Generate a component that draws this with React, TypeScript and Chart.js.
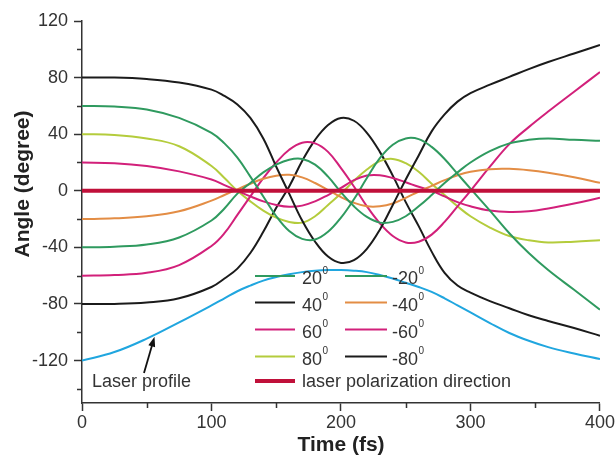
import React, { useEffect, useRef } from 'react';
import { Chart, registerables } from 'chart.js';

Chart.register(...registerables);

// ---- data ----
const T = [0, 25, 50, 75, 100, 110, 120, 130, 140, 150, 160, 170, 180, 190, 200, 210, 220, 230, 240, 250, 260, 270, 280, 290, 300, 315, 330, 345, 360, 380, 400];

const GREEN_A = [60, 59.5, 57.5, 51.5, 41, 33.5, 23.5, 10, -4, -18, -28.5, -34, -34.5, -29, -19, -6, 9, 23, 32.5, 37, 36.5, 31, 22.5, 12, 1.5, -14, -30, -44, -56, -70, -84];
const GREEN_B = [-40, -39.5, -38, -33, -21, -12.5, -2, 5.5, 13, 18.5, 22, 22.5, 18.5, 10, -1, -11, -18.5, -22.5, -22, -18, -11, -3, 5.5, 13, 20, 28, 33.5, 36, 37, 36, 35.4];
const BLACK_A = [80, 80, 79, 76.5, 71.5, 67, 61, 51.5, 37, 17, -2, -21, -36, -46.5, -51, -49, -41, -27.5, -10, 8, 25, 42, 54, 63, 69, 75, 80.5, 86, 91, 97, 103];
const ORANGE = [-20, -19.5, -18, -14.5, -7, -3, 1, 5, 8.5, 10.7, 11.3, 9.5, 5.5, 0.5, -4.5, -8.5, -11, -11, -9, -5, -0.5, 3.5, 7.5, 11, 13.5, 15.3, 15.5, 14.5, 12.7, 9.5, 5.6];
const MAGENTA_A = [20, 19.5, 17.5, 13.7, 8, 4, 0, -4, -7.5, -10, -11.3, -10.5, -7.5, -3, 2, 7.5, 10.8, 11, 9, 6, 2.8, 0, -4, -8, -11, -14, -15, -14.5, -12.5, -9, -5];
const MAGENTA_B = [-60, -59.5, -58, -52.5, -39, -30, -17, -4, 9, 20, 29, 34, 33.5, 27.5, 16, 3, -11, -23, -32, -36.5, -36, -31, -22, -11, 0, 17, 33, 45, 56, 70, 84];
const YELLOW = [40, 39.5, 37, 31.5, 17.5, 9, 0, -7.5, -14, -19, -22, -22.5, -18, -10, -2, 7, 15, 21, 22.5, 19.5, 13.5, 5, -3, -11, -18, -26, -32, -35, -36.5, -36, -35];
const BLACK_B = [-80, -80, -79, -76, -68, -62, -55, -44, -29, -12, 3, 21, 36, 46.5, 51.5, 49.5, 41, 27.5, 10.7, -8, -25, -43, -58, -67, -72, -78, -83, -88, -92, -97, -102.5];
const LASER = [-120, -114, -104.5, -93, -81, -76, -71, -67, -63.5, -61, -59, -57.5, -56.5, -56, -56, -56.5, -57.5, -59.5, -62, -65, -68, -71.5, -76, -81, -86, -93.5, -100.5, -106, -110.5, -115, -119];
const POL_T = [0, 400];
const POL_V = [0, 0];

const LEGEND_LEFT = ['20', '40', '60', '80'];
const LEGEND_RIGHT = ['-20', '-40', '-60', '-80'];
const POL_LABEL = 'laser polarization direction';
const LASER_LABEL = 'Laser profile';
const ARROW_T = 56;

const X_TICKS = [0, 100, 200, 300, 400];
const X_MINOR = [50, 150, 250, 350];
const Y_TICKS = [-120, -80, -40, 0, 40, 80, 120];
const Y_MINOR = [-140, -100, -60, -20, 20, 60, 100];

// ---- styles ----
const C_GREEN = '#2f9a5f';
const C_BLACK = '#1b1b1b';
const C_ORANGE = '#e38d45';
const C_MAGENTA = '#d2207a';
const C_YELLOW = '#b4cc3c';
const C_BLUE = '#20a6df';
const C_RED = '#c0103a';
const AXIS = '#333333';
const FONT = '"Liberation Sans", Arial, Helvetica, sans-serif';

const pts = (xs: number[], ys: number[]) => xs.map((x, i) => ({ x, y: ys[i] }));

const SERIES = [
  { label: '20', data: GREEN_A, color: C_GREEN },
  { label: '-20', data: GREEN_B, color: C_GREEN },
  { label: '40', data: BLACK_A, color: C_BLACK },
  { label: '-40', data: ORANGE, color: C_ORANGE },
  { label: '60', data: MAGENTA_A, color: C_MAGENTA },
  { label: '-60', data: MAGENTA_B, color: C_MAGENTA },
  { label: '80', data: YELLOW, color: C_YELLOW },
  { label: '-80', data: BLACK_B, color: C_BLACK },
];

const colorOf = (label: string) => (SERIES.find((s) => s.label === label) || { color: '#000' }).color;

const overlay = {
  id: 'overlay',
  afterDraw(chart: any) {
    const ctx = chart.ctx as CanvasRenderingContext2D;
    const xs = chart.scales.x;
    const ys = chart.scales.y;
    const { left, bottom } = chart.chartArea;
    ctx.save();
    // minor ticks
    ctx.strokeStyle = AXIS;
    ctx.lineWidth = 1.5;
    ctx.beginPath();
    X_MINOR.forEach((v) => {
      const px = Math.round(xs.getPixelForValue(v)) + 0.5;
      ctx.moveTo(px, bottom);
      ctx.lineTo(px, bottom + 5);
    });
    Y_MINOR.forEach((v) => {
      const py = Math.round(ys.getPixelForValue(v)) + 0.5;
      ctx.moveTo(left - 5, py);
      ctx.lineTo(left, py);
    });
    ctx.stroke();

    // axis titles
    ctx.fillStyle = '#222';
    ctx.font = `bold 21px ${FONT}`;
    ctx.textAlign = 'center';
    ctx.textBaseline = 'alphabetic';
    ctx.fillText('Time (fs)', (chart.chartArea.left + chart.chartArea.right) / 2, 451);
    ctx.save();
    ctx.translate(29, 184);
    ctx.rotate(-Math.PI / 2);
    ctx.fillText('Angle (degree)', 0, 0);
    ctx.restore();

    // legend
    const rowsY = [276, 302.5, 329.5, 356.5];
    const drawEntry = (label: string, lx0: number, lx1: number, tx: number, y: number) => {
      ctx.strokeStyle = colorOf(label);
      ctx.lineWidth = 2;
      ctx.beginPath();
      ctx.moveTo(lx0, y);
      ctx.lineTo(lx1, y);
      ctx.stroke();
      ctx.fillStyle = '#333';
      ctx.textAlign = 'left';
      ctx.textBaseline = 'alphabetic';
      ctx.font = `18px ${FONT}`;
      ctx.fillText(label, tx, y + 8);
      const w = ctx.measureText(label).width;
      ctx.font = `10px ${FONT}`;
      ctx.fillText('0', tx + w + 0.5, y - 2.5);
    };
    LEGEND_LEFT.forEach((l, i) => drawEntry(l, 255, 295, 302, rowsY[i]));
    LEGEND_RIGHT.forEach((l, i) => drawEntry(l, 345, 387, 392, rowsY[i]));
    ctx.strokeStyle = C_RED;
    ctx.lineWidth = 4;
    ctx.beginPath();
    ctx.moveTo(255, 381);
    ctx.lineTo(295, 381);
    ctx.stroke();
    ctx.fillStyle = '#333';
    ctx.font = `18px ${FONT}`;
    ctx.textAlign = 'left';
    ctx.fillText(POL_LABEL, 302, 387);

    // laser profile annotation
    ctx.fillText(LASER_LABEL, 92, 387);
    let yv = LASER[0];
    for (let i = 0; i < T.length - 1; i++) {
      if (ARROW_T >= T[i] && ARROW_T <= T[i + 1]) {
        const f = (ARROW_T - T[i]) / (T[i + 1] - T[i]);
        yv = LASER[i] + f * (LASER[i + 1] - LASER[i]);
      }
    }
    const tipX = xs.getPixelForValue(ARROW_T);
    const tipY = ys.getPixelForValue(yv) + 2;
    const tailX = 144;
    const tailY = 373;
    const ang = Math.atan2(tipY - tailY, tipX - tailX);
    ctx.strokeStyle = '#111';
    ctx.fillStyle = '#111';
    ctx.lineWidth = 1.8;
    ctx.beginPath();
    ctx.moveTo(tailX, tailY);
    ctx.lineTo(tipX - 7 * Math.cos(ang), tipY - 7 * Math.sin(ang));
    ctx.stroke();
    ctx.beginPath();
    ctx.moveTo(tipX, tipY);
    ctx.lineTo(tipX - 10 * Math.cos(ang) + 3.5 * Math.sin(ang), tipY - 10 * Math.sin(ang) - 3.5 * Math.cos(ang));
    ctx.lineTo(tipX - 10 * Math.cos(ang) - 3.5 * Math.sin(ang), tipY - 10 * Math.sin(ang) + 3.5 * Math.cos(ang));
    ctx.closePath();
    ctx.fill();
    ctx.restore();
  },
};

export default function App() {
  const ref = useRef<HTMLCanvasElement | null>(null);
  useEffect(() => {
    if (!ref.current) return;
    const line = (label: string, data: number[], color: string, width = 2, xsArr = T) => ({
      label,
      data: pts(xsArr, data),
      borderColor: color,
      backgroundColor: color,
      borderWidth: width,
      pointRadius: 0,
      fill: false,
      tension: 0.4,
    });
    const datasets: any[] = [
      line(POL_LABEL, POL_V, C_RED, 4, POL_T),
      ...SERIES.map((s) => line(s.label, s.data, s.color)),
      line(LASER_LABEL, LASER, C_BLUE),
    ];
    const chart = new Chart(ref.current, {
      type: 'line',
      data: { datasets },
      options: {
        responsive: false,
        devicePixelRatio: 1,
        animation: false,
        layout: { padding: { left: 0, top: 21, right: 16, bottom: 0 } },
        plugins: { legend: { display: false }, tooltip: { enabled: false } },
        scales: {
          x: {
            type: 'linear',
            min: 0,
            max: 400,
            afterBuildTicks: (s: any) => {
              s.ticks = X_TICKS.map((v) => ({ value: v }));
            },
            afterFit: (s: any) => {
              s.height = 63;
            },
            ticks: { font: { family: FONT, size: 18 }, color: '#333', padding: 1, maxRotation: 0 },
            grid: { drawOnChartArea: false, tickLength: 8, tickColor: AXIS, tickWidth: 1.5 },
            border: { color: AXIS, width: 1.5 },
          },
          y: {
            type: 'linear',
            min: -150,
            max: 120,
            afterBuildTicks: (s: any) => {
              s.ticks = Y_TICKS.map((v) => ({ value: v }));
            },
            afterFit: (s: any) => {
              s.width = 82;
            },
            ticks: { font: { family: FONT, size: 18 }, color: '#333', padding: 6 },
            grid: { drawOnChartArea: false, tickLength: 8, tickColor: AXIS, tickWidth: 1.5 },
            border: { color: AXIS, width: 1.5 },
          },
        },
      },
      plugins: [overlay],
    } as any);
    return () => chart.destroy();
  }, []);
  return (
    <div style={{ position: 'fixed', left: 0, top: 0, width: 616, height: 466, background: '#fff' }}>
      <canvas ref={ref} width={616} height={466} style={{ width: 616, height: 466, display: 'block' }} />
    </div>
  );
}
